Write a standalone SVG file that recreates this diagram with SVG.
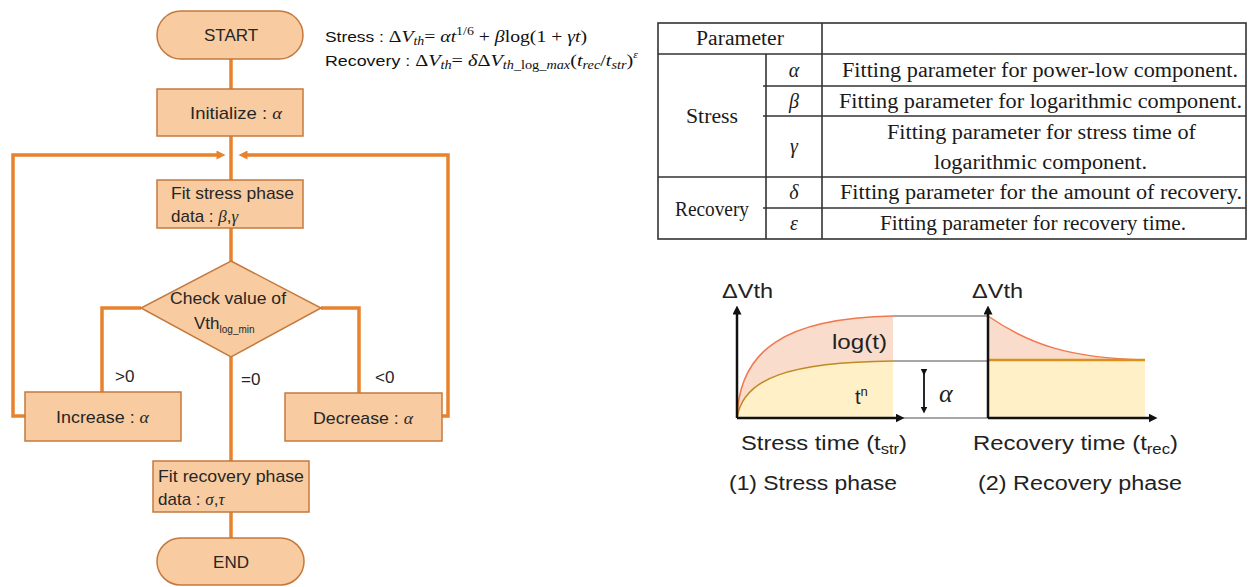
<svg xmlns="http://www.w3.org/2000/svg" width="1248" height="587" viewBox="0 0 1248 587">
<defs>
<style>
.node{fill:#F8CBA0;stroke:#C47A3E;stroke-width:1.5}
.ft{font-family:"Liberation Sans",Arial,sans-serif;font-size:17px;fill:#262626}
.gk{font-family:"Liberation Serif","Times New Roman",serif;font-style:italic}
.con{fill:none;stroke:#E8822C;stroke-width:3.5}
.tb{font-family:"Liberation Serif","Times New Roman",serif;font-size:20px;fill:#1a1a1a}
.tl{stroke:#333;stroke-width:1.6;fill:none}
.gl{font-family:"Liberation Sans",Arial,sans-serif;font-size:20px;fill:#222}
.ax{stroke:#111;stroke-width:2.5;fill:none}
.gray{stroke:#8a8a8a;stroke-width:1.3;fill:none}
.fm{font-family:"Liberation Serif","Times New Roman",serif;font-size:17px;fill:#111}
</style>
<marker id="arr" viewBox="0 0 10 10" refX="5" refY="5" markerWidth="10" markerHeight="9" markerUnits="userSpaceOnUse" orient="auto"><path d="M0,0 L10,5 L0,10 z" fill="#E8822C"/></marker>
<marker id="ba" viewBox="0 0 10 10" refX="5" refY="5" markerWidth="9" markerHeight="9" markerUnits="userSpaceOnUse" orient="auto"><path d="M0,0 L10,5 L0,10 z" fill="#111"/></marker>
<marker id="sa" viewBox="0 0 10 10" refX="5" refY="5" markerWidth="7" markerHeight="7" markerUnits="userSpaceOnUse" orient="auto"><path d="M0,0 L10,5 L0,10 z" fill="#111"/></marker>
</defs>
<rect width="1248" height="587" fill="#fff"/>

<!-- connectors -->
<g id="connectors">
<path class="con" d="M231,59 V89"/>
<path class="con" d="M231,136 V180"/>
<path class="con" d="M231,228 V261"/>
<path class="con" d="M231,357 V461"/>
<path class="con" d="M231,512 V538"/>
<path class="con" d="M141,308 H102 V392"/>
<path class="con" d="M321,308 H359 V393"/>
<path class="con" d="M25,416 H13 V155 H221" marker-end="url(#arr)"/>
<path class="con" d="M442,416 H448 V155 H243" marker-end="url(#arr)"/>
</g>

<g id="start">
<rect class="node" x="157" y="11" width="146" height="48" rx="24"/>
<text class="ft" x="231" y="41" text-anchor="middle" font-size="18">START</text>
</g>
<g id="init">
<rect class="node" x="157" y="89" width="146" height="47"/>
<text class="ft" x="190" y="119" textLength="92" lengthAdjust="spacingAndGlyphs">Initialize : <tspan class="gk">α</tspan></text>
</g>
<g id="fit-stress">
<rect class="node" x="157" y="180" width="146" height="48"/>
<text class="ft" x="171" y="199" textLength="123" lengthAdjust="spacingAndGlyphs">Fit stress phase</text>
<text class="ft" x="171" y="222">data : <tspan class="gk">β</tspan>,<tspan class="gk">γ</tspan></text>
</g>
<g id="check">
<polygon class="node" points="231,261 321,308 231,357 141,308"/>
<text class="ft" x="228" y="304" text-anchor="middle" textLength="116" lengthAdjust="spacingAndGlyphs">Check value of</text>
<text class="ft" x="194" y="329">Vth<tspan font-size="10" dy="4">log_min</tspan></text>
</g>
<g id="increase">
<rect class="node" x="25" y="392" width="156" height="49"/>
<text class="ft" x="56" y="423" textLength="93" lengthAdjust="spacingAndGlyphs">Increase : <tspan class="gk">α</tspan></text>
</g>
<g id="decrease">
<rect class="node" x="285" y="393" width="157" height="48"/>
<text class="ft" x="313" y="424" textLength="100" lengthAdjust="spacingAndGlyphs">Decrease : <tspan class="gk">α</tspan></text>
</g>
<g id="fit-recovery">
<rect class="node" x="153" y="461" width="156" height="51"/>
<text class="ft" x="158" y="482" textLength="146" lengthAdjust="spacingAndGlyphs">Fit recovery phase</text>
<text class="ft" x="158" y="505">data : <tspan class="gk">σ</tspan>,<tspan class="gk">τ</tspan></text>
</g>
<g id="end">
<rect class="node" x="157" y="538" width="147" height="47" rx="23.5"/>
<text class="ft" x="231" y="568" text-anchor="middle" font-size="18">END</text>
</g>

<g id="edge-labels">
<text class="ft" x="115" y="382">&gt;0</text>
<text class="ft" x="241" y="385">=0</text>
<text class="ft" x="375" y="383">&lt;0</text>
</g>

<!-- formulas -->
<g id="formulas">
<text class="fm" x="325" y="42" textLength="262" lengthAdjust="spacingAndGlyphs"><tspan font-family="Liberation Sans, Arial, sans-serif" font-size="15">Stress : </tspan>Δ<tspan font-style="italic">V</tspan><tspan font-style="italic" font-size="12" dy="3">th</tspan><tspan dy="-3">= </tspan><tspan font-style="italic">αt</tspan><tspan font-size="12" dy="-7">1/6</tspan><tspan dy="7"> + </tspan><tspan font-style="italic">β</tspan>log(1 + <tspan font-style="italic">γt</tspan>)</text>
<text class="fm" x="325" y="66" textLength="313" lengthAdjust="spacingAndGlyphs"><tspan font-family="Liberation Sans, Arial, sans-serif" font-size="15">Recovery : </tspan>Δ<tspan font-style="italic">V</tspan><tspan font-style="italic" font-size="12" dy="3">th</tspan><tspan dy="-3">= </tspan><tspan font-style="italic">δ</tspan>Δ<tspan font-style="italic">V</tspan><tspan font-size="12" dy="3"><tspan font-style="italic">th</tspan>_log_<tspan font-style="italic">max</tspan></tspan><tspan dy="-3">(</tspan><tspan font-style="italic">t</tspan><tspan font-style="italic" font-size="12" dy="3">rec</tspan><tspan dy="-3">/</tspan><tspan font-style="italic">t</tspan><tspan font-style="italic" font-size="12" dy="3">str</tspan><tspan dy="-3">)</tspan><tspan font-style="italic" font-size="10" dy="-8">ε</tspan></text>
</g>

<!-- table -->
<g id="table">
<rect class="tl" x="658" y="23" width="588" height="216"/>
<path class="tl" d="M822,23 V239 M766,54 V239 M658,54 H1246 M658,177 H1246 M763,86 H1246 M763,116 H1246 M763,208 H1246"/>
<text class="tb" x="740" y="45" text-anchor="middle" textLength="88" lengthAdjust="spacingAndGlyphs">Parameter</text>
<text class="tb" x="712" y="123" text-anchor="middle" textLength="52" lengthAdjust="spacingAndGlyphs">Stress</text>
<text class="tb" x="712" y="216" text-anchor="middle" textLength="74" lengthAdjust="spacingAndGlyphs">Recovery</text>
<text class="tb gk" x="794" y="77" text-anchor="middle">α</text>
<text class="tb gk" x="794" y="108" text-anchor="middle">β</text>
<text class="tb gk" x="794" y="153" text-anchor="middle">γ</text>
<text class="tb gk" x="794" y="199" text-anchor="middle">δ</text>
<text class="tb gk" x="794" y="230" text-anchor="middle">ε</text>
<text class="tb" x="842" y="77" textLength="396" lengthAdjust="spacingAndGlyphs">Fitting parameter for power-low component.</text>
<text class="tb" x="839" y="108" textLength="403" lengthAdjust="spacingAndGlyphs">Fitting parameter for logarithmic component.</text>
<text class="tb" x="887" y="139" textLength="309" lengthAdjust="spacingAndGlyphs">Fitting parameter for stress time of</text>
<text class="tb" x="934" y="169" textLength="213" lengthAdjust="spacingAndGlyphs">logarithmic component.</text>
<text class="tb" x="840" y="199" textLength="402" lengthAdjust="spacingAndGlyphs">Fitting parameter for the amount of recovery.</text>
<text class="tb" x="880" y="230" textLength="306" lengthAdjust="spacingAndGlyphs">Fitting parameter for recovery time.</text>
</g>

<!-- graph -->
<g id="graph">
<path d="M737,418 C743,378 790,362 893,361 L893,418 Z" fill="#FFF0C8"/>
<path d="M737,418 C739,350 785,318 893,316 L893,361 C790,362 743,378 737,418 Z" fill="#F9DCCB"/>
<path d="M737,418 C739,350 785,318 893,316" fill="none" stroke="#F07850" stroke-width="1.5"/>
<path d="M737,418 C743,378 790,362 893,361" fill="none" stroke="#C08A20" stroke-width="1.5"/>
<rect x="988" y="360" width="157" height="58" fill="#FFF0C8"/>
<path d="M988,316 C1030,345 1070,358 1145,360 L988,360 Z" fill="#F9DCCB"/>
<path d="M988,316 C1030,345 1070,358 1145,360" fill="none" stroke="#F07850" stroke-width="1.5"/>
<path d="M988,360 H1145" stroke="#D8901E" stroke-width="2.5"/>
<path class="gray" d="M893,316 H988 M893,361 H988 M893,418 H988"/>
<path class="ax" d="M737,418 V310" marker-end="url(#ba)"/>
<path class="ax" d="M737,418 H900" marker-end="url(#ba)"/>
<path class="ax" d="M988,418 V310" marker-end="url(#ba)"/>
<path class="ax" d="M988,418 H1153" marker-end="url(#ba)"/>
<path d="M924,372 V410" stroke="#111" stroke-width="1.8" marker-start="url(#sa)" marker-end="url(#sa)"/>
<text class="gk" x="939" y="402" font-size="26" fill="#222">α</text>
<text class="gl" x="722" y="298" textLength="51" lengthAdjust="spacingAndGlyphs">ΔVth</text>
<text class="gl" x="972" y="298" textLength="51" lengthAdjust="spacingAndGlyphs">ΔVth</text>
<text class="gl" x="832" y="349" font-size="23" textLength="55" lengthAdjust="spacingAndGlyphs">log(t)</text>
<text class="gl" x="855" y="404" font-size="21">t<tspan font-size="13" dy="-8">n</tspan></text>
<text class="gl" x="741" y="450" font-size="21" textLength="166" lengthAdjust="spacingAndGlyphs">Stress time (t<tspan font-size="14" dy="4">str</tspan><tspan dy="-4">)</tspan></text>
<text class="gl" x="973" y="450" font-size="21" textLength="205" lengthAdjust="spacingAndGlyphs">Recovery time (t<tspan font-size="14" dy="4">rec</tspan><tspan dy="-4">)</tspan></text>
<text class="gl" x="729" y="490" textLength="168" lengthAdjust="spacingAndGlyphs">(1) Stress phase</text>
<text class="gl" x="978" y="490" textLength="204" lengthAdjust="spacingAndGlyphs">(2) Recovery phase</text>
</g>
</svg>
